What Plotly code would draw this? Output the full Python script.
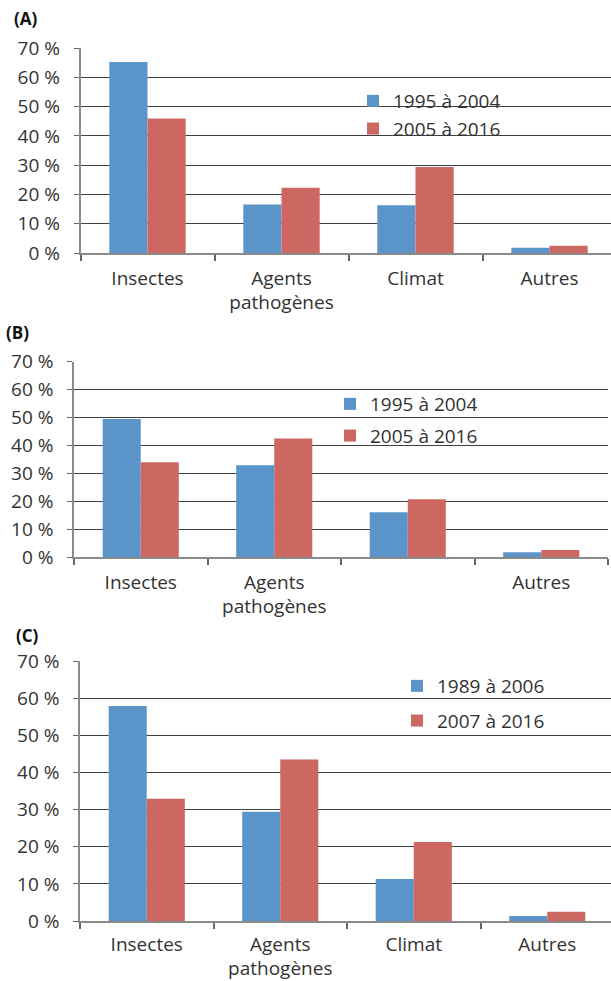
import plotly.graph_objects as go

# ---- data ----
categories = ["Insectes", "Agents<br>pathogènes", "Climat", "Autres"]
labels_b = ["Insectes", "Agents<br>pathogènes", "", "Autres"]

series_a = ["1995 à 2004", "2005 à 2016"]
a_first = [65.2, 16.6, 16.3, 1.8]
a_second = [45.9, 22.3, 29.4, 2.5]

series_b = ["1995 à 2004", "2005 à 2016"]
b_first = [49.5, 32.9, 16.0, 1.7]
b_second = [34.0, 42.5, 20.7, 2.5]

series_c = ["1989 à 2006", "2007 à 2016"]
c_first = [57.9, 29.4, 11.3, 1.35]
c_second = [32.9, 43.5, 21.3, 2.5]

y_ticks = [0, 10, 20, 30, 40, 50, 60, 70]
y_tick_labels = ["0 %", "10 %", "20 %", "30 %", "40 %", "50 %", "60 %", "70 %"]

BLUE = "#5b94c8"
RED = "#cc6762"
W, H = 611, 981
FONT = "Open Sans"
TXT = "#333333"

# pixel geometry of each panel
panels = [
    dict(x0=80.5, cat=134.0, y0=253.0, y70=48.0, xend=611.0, stand=7),
    dict(x0=74.0, cat=133.5, y0=557.0, y70=361.7, xend=608.0, stand=7),
    dict(x0=80.0, cat=133.5, y0=921.0, y70=661.0, xend=611.0, stand=5),
]

fig = go.Figure()
data = [
    (series_a, a_first, a_second, categories),
    (series_b, b_first, b_second, labels_b),
    (series_c, c_first, c_second, categories),
]
xs = list(range(len(categories)))

for i, (names, s1, s2, labs) in enumerate(data):
    suffix = "" if i == 0 else str(i + 1)
    leg = "legend" if i == 0 else f"legend{i + 1}"
    for name, vals, col, grp in ((names[0], s1, BLUE, "g1"), (names[1], s2, RED, "g2")):
        fig.add_trace(go.Bar(
            x=xs, y=vals, name=name, marker=dict(color=col, line=dict(width=0)),
            xaxis="x" + suffix, yaxis="y" + suffix, offsetgroup=grp,
            legend=leg, legendgroup=f"{grp}{i}",
        ))
    p = panels[i]
    xr_end = -0.5 + (p["xend"] - p["x0"]) / p["cat"]
    fig.update_layout(**{
        "xaxis" + suffix: dict(
            domain=[p["x0"] / W, p["xend"] / W], range=[-0.5, xr_end],
            anchor="y" + suffix, tickmode="array", tickvals=xs, ticktext=labs,
            ticks="", showgrid=False, zeroline=False, automargin=False,
            showline=True, linecolor="#8a8a8a", linewidth=1.5,
            tickfont=dict(family=FONT, size=19, color=TXT),
            ticklabelstandoff=p["stand"],
            minor=dict(tickmode="array", tickvals=[-0.5, 0.5, 1.5, 2.5, 3.5],
                       ticks="outside", ticklen=6, tickcolor="#666", tickwidth=1.5,
                       showgrid=False),
            fixedrange=True,
        ),
        "yaxis" + suffix: dict(
            domain=[1 - p["y0"] / H, 1 - p["y70"] / H], range=[0, 70],
            anchor="x" + suffix, tickmode="array", tickvals=y_ticks,
            ticktext=y_tick_labels, automargin=False,
            ticks="outside", ticklen=5, tickcolor="#666",
            showline=True, linecolor="#8a8a8a", linewidth=1.5,
            showgrid=True, gridcolor="#404040", gridwidth=1, zeroline=False,
            tickfont=dict(family=FONT, size=19, color=TXT),
            ticklabelstandoff=10,
            fixedrange=True,
        ),
    })

legend_style = dict(font=dict(family=FONT, size=19, color=TXT), bgcolor="rgba(0,0,0,0)",
                    xanchor="left", yanchor="top", traceorder="grouped",
                    itemsizing="constant")
fig.update_layout(
    width=W, height=H, autosize=False,
    margin=dict(l=0, r=0, t=0, b=0, autoexpand=False),
    paper_bgcolor="white", plot_bgcolor="white",
    barmode="group", bargap=0.43, bargroupgap=0,
    showlegend=True,
    legend=dict(legend_style, x=353 / W, y=1 - 82 / H, tracegroupgap=0),
    legend2=dict(legend_style, x=330 / W, y=1 - 385 / H, tracegroupgap=4),
    legend3=dict(legend_style, x=397 / W, y=1 - 667 / H, tracegroupgap=7),
    annotations=[
        dict(text="<b>(A)</b>", x=12 / W, y=1 - 18 / H, xref="paper", yref="paper",
             xanchor="left", yanchor="middle", showarrow=False,
             font=dict(family=FONT, size=17, color="#111")),
        dict(text="<b>(B)</b>", x=4 / W, y=1 - 333 / H, xref="paper", yref="paper",
             xanchor="left", yanchor="middle", showarrow=False,
             font=dict(family=FONT, size=17, color="#111")),
        dict(text="<b>(C)</b>", x=14 / W, y=1 - 635 / H, xref="paper", yref="paper",
             xanchor="left", yanchor="middle", showarrow=False,
             font=dict(family=FONT, size=17, color="#111")),
    ],
)

fig.write_html("out.html", config={"displayModeBar": False},
               post_script="document.body.style.margin='0';document.body.style.overflow='hidden';")
